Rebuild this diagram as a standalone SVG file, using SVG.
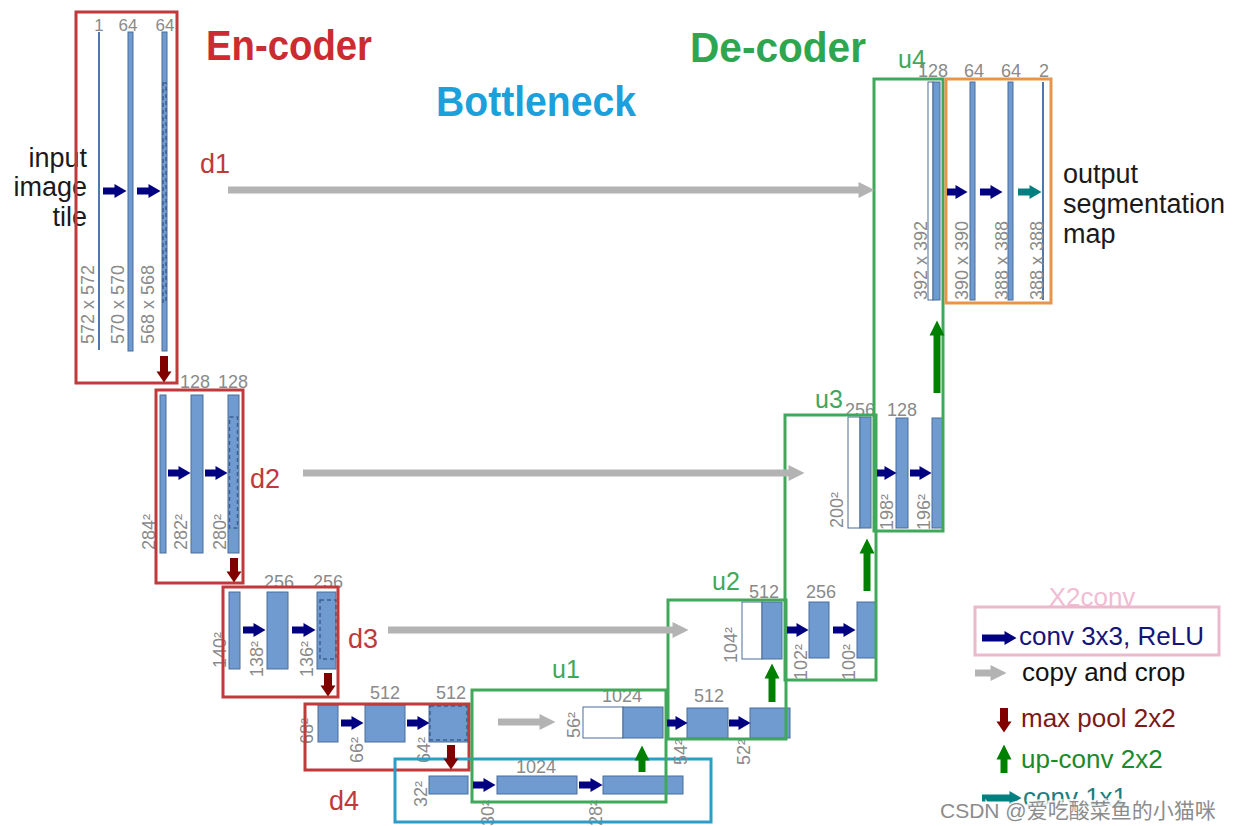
<svg xmlns="http://www.w3.org/2000/svg" width="1245" height="826" viewBox="0 0 1245 826">
<style>
text{font-family:"Liberation Sans",Arial,sans-serif}
.bg{fill:#ffffff}
.bar{fill:#6f9bd1;stroke:#4a6d99;stroke-width:1}
.wbar{fill:#ffffff;stroke:#4a6d99;stroke-width:1}
.thin{stroke:#4f77a8;stroke-width:2}
.dash{fill:none;stroke:#3e5f8f;stroke-width:1.5;stroke-dasharray:4 3}
.dim{font-size:18px;fill:#8a8a8a}
.top{font-size:18px;fill:#8a8a8a;text-anchor:middle}
.encbox{fill:none;stroke:#c0393b;stroke-width:3}
.decbox{fill:none;stroke:#3fa85a;stroke-width:3}
.botbox{fill:none;stroke:#2a9dc8;stroke-width:3}
.outbox{fill:none;stroke:#e6954a;stroke-width:3}
.legbox{fill:none;stroke:#ebb8cc;stroke-width:3}
.dlab{font-size:27px;fill:#c0393b}
.ulab{font-size:25px;fill:#3fa85a}
.title{font-size:42px;font-weight:bold}
.big{font-size:27px;fill:#1a1a1a}
.conv{stroke:#000080;stroke-width:7;fill:none;marker-end:url(#mConv)}
.copy{stroke:#b3b3b3;stroke-width:7;fill:none;marker-end:url(#mCopy)}
.pool{stroke:#800000;stroke-width:8;fill:none;marker-end:url(#mPool)}
.up{stroke:#008000;stroke-width:7;fill:none;marker-end:url(#mUp)}
.c11{stroke:#008080;stroke-width:7;fill:none;marker-end:url(#mC11)}
.leg{font-size:26px}
</style>
<defs>
<marker id="mConv" markerUnits="userSpaceOnUse" markerWidth="12" markerHeight="14" refX="0.5" refY="7" orient="auto" overflow="visible"><path d="M0,0 L12,7 L0,14 Z" fill="#000080"/></marker>
<marker id="mCopy" markerUnits="userSpaceOnUse" markerWidth="16" markerHeight="16" refX="0.5" refY="8" orient="auto" overflow="visible"><path d="M0,0 L16,8 L0,16 Z" fill="#b3b3b3"/></marker>
<marker id="mPool" markerUnits="userSpaceOnUse" markerWidth="11" markerHeight="15" refX="0.5" refY="7.5" orient="auto" overflow="visible"><path d="M0,0 L11,7.5 L0,15 Z" fill="#800000"/></marker>
<marker id="mUp" markerUnits="userSpaceOnUse" markerWidth="15" markerHeight="15" refX="0.5" refY="7.5" orient="auto" overflow="visible"><path d="M0,0 L15,7.5 L0,15 Z" fill="#008000"/></marker>
<marker id="mC11" markerUnits="userSpaceOnUse" markerWidth="12" markerHeight="14" refX="0.5" refY="7" orient="auto" overflow="visible"><path d="M0,0 L12,7 L0,14 Z" fill="#008080"/></marker>
</defs>
<rect class="bg" x="0" y="0" width="1245" height="826"/>

<g id="titles">
<text class="title" x="206" y="60" fill="#cc2b31" textLength="166" lengthAdjust="spacingAndGlyphs">En-coder</text>
<text class="title" x="436" y="116" fill="#1ba0dc" textLength="200" lengthAdjust="spacingAndGlyphs">Bottleneck</text>
<text class="title" x="690" y="62" fill="#2ea64f" textLength="176" lengthAdjust="spacingAndGlyphs">De-coder</text>
</g>

<g id="input-label">
<text class="big" x="87" y="167" text-anchor="end">input</text>
<text class="big" x="87" y="196" text-anchor="end">image</text>
<text class="big" x="87" y="226" text-anchor="end">tile</text>
</g>

<g id="d1">
<line class="thin" x1="99" y1="32" x2="99" y2="350"/>
<rect class="bar" x="128" y="32" width="5" height="319"/>
<rect class="bar" x="162" y="32" width="5" height="319"/>
<rect class="dash" x="163" y="83" width="3" height="219"/>
<text class="top" x="99" y="31" style="font-size:17px">1</text>
<text class="top" x="128" y="31" style="font-size:17px">64</text>
<text class="top" x="165" y="31" style="font-size:17px">64</text>
<text class="dim" transform="translate(94,344) rotate(-90)">572 x 572</text>
<text class="dim" transform="translate(124,344) rotate(-90)">570 x 570</text>
<text class="dim" transform="translate(154,344) rotate(-90)">568 x 568</text>
<rect class="encbox" x="76" y="12" width="101" height="371"/>
<text class="dlab" x="200" y="173">d1</text>
</g>

<g id="d2">
<rect class="bar" x="160" y="395" width="6" height="158"/>
<rect class="bar" x="191" y="395" width="12" height="158"/>
<rect class="bar" x="228" y="395" width="11" height="158"/>
<rect class="dash" x="229.5" y="417" width="8" height="111"/>
<text class="top" x="195" y="388">128</text>
<text class="top" x="233" y="388">128</text>
<text class="dim" transform="translate(155,550) rotate(-90)">284²</text>
<text class="dim" transform="translate(187,550) rotate(-90)">282²</text>
<text class="dim" transform="translate(226,550) rotate(-90)">280²</text>
<rect class="encbox" x="156" y="390" width="87" height="193"/>
<text class="dlab" x="250" y="488">d2</text>
</g>

<g id="d3">
<rect class="bar" x="229" y="592" width="11" height="77"/>
<rect class="bar" x="267" y="592" width="21" height="77"/>
<rect class="bar" x="317" y="592" width="19" height="77"/>
<rect class="dash" x="320" y="600" width="16" height="59"/>
<text class="top" x="279" y="588">256</text>
<text class="top" x="328" y="588">256</text>
<text class="dim" transform="translate(226,668) rotate(-90)">140²</text>
<text class="dim" transform="translate(263,677) rotate(-90)">138²</text>
<text class="dim" transform="translate(313,677) rotate(-90)">136²</text>
<rect class="encbox" x="223" y="587" width="115" height="110"/>
<text class="dlab" x="348" y="648">d3</text>
</g>

<g id="d4">
<rect class="bar" x="318" y="705" width="20" height="37"/>
<rect class="bar" x="365" y="705" width="40" height="37"/>
<rect class="bar" x="429" y="705" width="39" height="37"/>
<rect class="dash" x="430" y="706" width="37" height="34"/>
<text class="top" x="385" y="699">512</text>
<text class="top" x="451" y="699">512</text>
<text class="dim" transform="translate(313,744) rotate(-90)">68²</text>
<text class="dim" transform="translate(363,763) rotate(-90)">66²</text>
<text class="dim" transform="translate(430,763) rotate(-90)">64²</text>
<rect class="encbox" x="305" y="704" width="164" height="66"/>
<text class="dlab" x="329" y="810">d4</text>
</g>

<g id="bottleneck">
<rect class="bar" x="429" y="776" width="39" height="18"/>
<rect class="bar" x="497" y="776" width="80" height="18"/>
<rect class="bar" x="603" y="776" width="80" height="18"/>
<text class="top" x="536" y="773">1024</text>
<text class="dim" transform="translate(427,807) rotate(-90)">32²</text>
<text class="dim" transform="translate(494,826) rotate(-90)">30²</text>
<text class="dim" transform="translate(602,826) rotate(-90)">28²</text>
<rect class="botbox" x="395" y="759" width="316" height="63"/>
</g>

<g id="u1">
<rect class="wbar" x="583" y="707" width="40" height="31"/>
<rect class="bar" x="623" y="707" width="40" height="31"/>
<text class="top" x="622" y="702">1024</text>
<text class="dim" transform="translate(580,738) rotate(-90)">56²</text>
<rect class="decbox" x="472" y="690" width="194" height="112"/>
<text class="ulab" x="552" y="678">u1</text>
</g>

<g id="u2">
<rect class="bar" x="687" y="708" width="41" height="30"/>
<rect class="bar" x="750" y="708" width="40" height="30"/>
<text class="top" x="709" y="702">512</text>
<text class="dim" transform="translate(687,765) rotate(-90)">54²</text>
<text class="dim" transform="translate(750,765) rotate(-90)">52²</text>
<rect class="wbar" x="742" y="602" width="20" height="57"/>
<rect class="bar" x="762" y="602" width="20" height="57"/>
<text class="top" x="764" y="598">512</text>
<text class="dim" transform="translate(737,663) rotate(-90)">104²</text>
<rect class="decbox" x="668" y="600" width="118" height="139"/>
<text class="ulab" x="712" y="590">u2</text>
</g>

<g id="u3">
<rect class="bar" x="809" y="602" width="20" height="56"/>
<rect class="bar" x="857" y="602" width="19" height="56"/>
<text class="top" x="821" y="598">256</text>
<text class="dim" transform="translate(807,680) rotate(-90)">102²</text>
<text class="dim" transform="translate(855,680) rotate(-90)">100²</text>
<rect class="wbar" x="848" y="417" width="12" height="111"/>
<rect class="bar" x="860" y="417" width="11" height="111"/>
<text class="top" x="860" y="416">256</text>
<text class="dim" transform="translate(843,528) rotate(-90)">200²</text>
<rect class="decbox" x="785" y="415" width="91" height="265"/>
<text class="ulab" x="815" y="408">u3</text>
</g>

<g id="u4">
<rect class="bar" x="896" y="418" width="12" height="110"/>
<rect class="bar" x="932" y="418" width="11" height="110"/>
<text class="top" x="902" y="416">128</text>
<text class="dim" transform="translate(893,530) rotate(-90)">198²</text>
<text class="dim" transform="translate(930,530) rotate(-90)">196²</text>
<rect class="wbar" x="928" y="82" width="5" height="218"/>
<rect class="bar" x="933" y="82" width="7" height="218"/>
<text class="dim" transform="translate(927,300) rotate(-90)">392 x 392</text>
<rect class="decbox" x="874" y="79" width="69" height="452"/>
<text class="ulab" x="898" y="68">u4</text>
<text class="top" x="933" y="77">128</text>
</g>

<g id="output">
<rect class="bar" x="970" y="82" width="5" height="218"/>
<rect class="bar" x="1008" y="82" width="5" height="218"/>
<line class="thin" x1="1043" y1="82" x2="1043" y2="300"/>
<text class="top" x="974" y="77">64</text>
<text class="top" x="1011" y="77">64</text>
<text class="top" x="1044" y="77">2</text>
<text class="dim" transform="translate(968,300) rotate(-90)">390 x 390</text>
<text class="dim" transform="translate(1008,300) rotate(-90)">388 x 388</text>
<text class="dim" transform="translate(1043,300) rotate(-90)">388 x 388</text>
<rect class="outbox" x="946" y="79" width="105" height="224"/>
<text class="big" x="1063" y="183">output</text>
<text class="big" x="1063" y="213">segmentation</text>
<text class="big" x="1063" y="243">map</text>
</g>

<g id="connectors">
<line class="conv" x1="103" y1="191" x2="115" y2="191"/>
<line class="conv" x1="137" y1="191" x2="149" y2="191"/>
<line class="conv" x1="168" y1="473" x2="179" y2="473"/>
<line class="conv" x1="205" y1="473" x2="216" y2="473"/>
<line class="conv" x1="243" y1="630" x2="254" y2="630"/>
<line class="conv" x1="292" y1="630" x2="304" y2="630"/>
<line class="conv" x1="341" y1="723" x2="352" y2="723"/>
<line class="conv" x1="407" y1="723" x2="418" y2="723"/>
<line class="conv" x1="473" y1="785" x2="484" y2="785"/>
<line class="conv" x1="579" y1="785" x2="591" y2="785"/>
<line class="conv" x1="667" y1="723" x2="676" y2="723"/>
<line class="conv" x1="729" y1="723" x2="739" y2="723"/>
<line class="conv" x1="787" y1="630" x2="797" y2="630"/>
<line class="conv" x1="833" y1="630" x2="844" y2="630"/>
<line class="conv" x1="877" y1="473" x2="885" y2="473"/>
<line class="conv" x1="910" y1="473" x2="920" y2="473"/>
<line class="conv" x1="947" y1="192" x2="956" y2="192"/>
<line class="conv" x1="980" y1="192" x2="991" y2="192"/>
<line class="c11" x1="1018" y1="192" x2="1030" y2="192"/>
<line class="copy" x1="228" y1="190" x2="859" y2="190"/>
<line class="copy" x1="303" y1="473" x2="789" y2="473"/>
<line class="copy" x1="388" y1="630" x2="673" y2="630"/>
<line class="copy" x1="498" y1="722" x2="540" y2="722"/>
<line class="pool" x1="164" y1="356" x2="164" y2="372"/>
<line class="pool" x1="234" y1="558" x2="234" y2="572"/>
<line class="pool" x1="328" y1="673" x2="328" y2="686"/>
<line class="pool" x1="451" y1="745" x2="451" y2="759"/>
<line class="up" x1="642" y1="772" x2="642" y2="760"/>
<line class="up" x1="772" y1="702" x2="772" y2="678"/>
<line class="up" x1="867" y1="591" x2="867" y2="553"/>
<line class="up" x1="937" y1="393" x2="937" y2="335"/>
</g>

<g id="legend">
<text x="1092" y="606" text-anchor="middle" class="leg" fill="#f2bcd4">X2conv</text>
<rect class="legbox" x="975" y="607" width="244" height="48"/>
<line class="conv" x1="982" y1="638" x2="1005" y2="638"/>
<text x="1019" y="645" class="leg" fill="#14147a">conv 3x3, ReLU</text>
<line class="copy" x1="975" y1="673" x2="991" y2="673"/>
<text x="1022" y="681" class="leg" fill="#111111">copy and crop</text>
<line class="pool" x1="1004" y1="708" x2="1004" y2="722"/>
<text x="1021" y="727" class="leg" fill="#7a1a1a">max pool 2x2</text>
<line class="up" x1="1004" y1="773" x2="1004" y2="759"/>
<text x="1021" y="768" class="leg" fill="#1a8a2a">up-conv 2x2</text>
<line class="c11" x1="982" y1="798" x2="1010" y2="798"/>
<text x="1023" y="806" class="leg" fill="#1a7f80">conv 1x1</text>
</g>

<g id="watermark">
<text x="940" y="818" style="font-family:'Liberation Sans','Noto Sans CJK SC',sans-serif;font-size:21px;fill:#8c8c8c;stroke:#ffffff;stroke-width:4;paint-order:stroke;stroke-opacity:0.85">CSDN @爱吃酸菜鱼的小猫咪</text>
</g>
</svg>
